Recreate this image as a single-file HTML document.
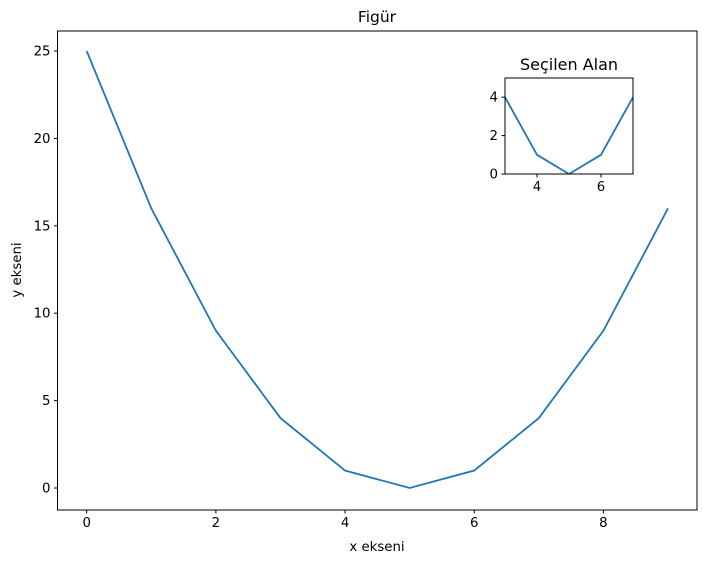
<!DOCTYPE html>
<html><head><meta charset="utf-8"><style>
body{margin:0;background:#fff;}
svg{font-family:"DejaVu Sans","Liberation Sans",sans-serif;}
</style></head><body>
<svg id="c" width="707" height="563" xmlns="http://www.w3.org/2000/svg"></svg>
<script>
const xs=[0,1,2,3,4,5,6,7,8,9];
const ys=[25,16,9,4,1,0,1,4,9,16];
const xTicks=[0,2,4,6,8];
const yTicks=[0,5,10,15,20,25];
const insetX=[3,4,5,6,7];
const insetY=[4,1,0,1,4];
const insetXTicks=[4,6];
const insetYTicks=[0,2,4];
const svg=document.getElementById('c');
const NS='http://www.w3.org/2000/svg';
function mk(t,a,p){const e=document.createElementNS(NS,t);for(const k in a)e.setAttribute(k,a[k]);(p||svg).appendChild(e);return e;}
function axes(L,R,T,B,x0,x1,y0,y1,X,Y,xt,yt,nm,fs){
 const g=mk('g',{});
 
 
 const sx=v=>L+(v-x0)/(x1-x0)*(R-L), sy=v=>B-(v-y0)/(y1-y0)*(B-T);
 mk('rect',{x:L,y:T,width:R-L,height:B-T,fill:'#fff'},g);
 const cp='cp'+nm;
 const d=mk('clipPath',{id:cp},g);mk('rect',{x:L,y:T,width:R-L,height:B-T},d);
 const pl=mk('polyline',{points:X.map((v,i)=>sx(v)+','+sy(Y[i])).join(' '),fill:'none',stroke:'#1f77b4','stroke-width':1.8,'clip-path':'url(#'+cp+')'},g);
 
 
 xt.forEach(v=>{const x=sx(v);mk('line',{x1:x,x2:x,y1:B,y2:B+3.5,stroke:'#000','stroke-width':1},g);
  const t=mk('text',{x:x,y:B+17,'text-anchor':'middle','font-size':fs,fill:'#000'},g);t.textContent=v;
  
  });
 yt.forEach(v=>{const y=sy(v);mk('line',{x1:L-3.5,x2:L,y1:y,y2:y,stroke:'#000','stroke-width':1},g);
  const t=mk('text',{x:L-7,y:y+4.5,'text-anchor':'end','font-size':fs,fill:'#000'},g);t.textContent=v;
  
  });
 mk('rect',{x:L,y:T,width:R-L,height:B-T,fill:'none',stroke:'#000','stroke-width':1},g);
 return g;
}
const mxr=(668-86.7)/9, myr=(488-51)/25;
axes(57.5,697,31,510,(57.5-86.7)/mxr,(697-86.7)/mxr,-(510-488)/myr,(488-31)/myr,xs,ys,xTicks,yTicks,'main-axes',13.3);
axes(505,633,78,174,3,7,0,5,insetX,insetY,insetXTicks,insetYTicks,'inset-axes',13.3);
function txt(x,y,s,fs,nm,rot){const t=mk('text',{x:x,y:y,'text-anchor':'middle','font-size':fs,fill:'#000'});if(rot)t.setAttribute('transform','rotate(-90 '+x+' '+y+')');t.textContent=s;
 
 }
txt(377,22,'Figür',15.5,'chart-title');
txt(569,70,'Seçilen Alan',16,'inset-title');
txt(377,551,'x ekseni',13.3,'x-axis-title');
txt(21,270,'y ekseni',13.3,'y-axis-title',true);
</script>
</body></html>
